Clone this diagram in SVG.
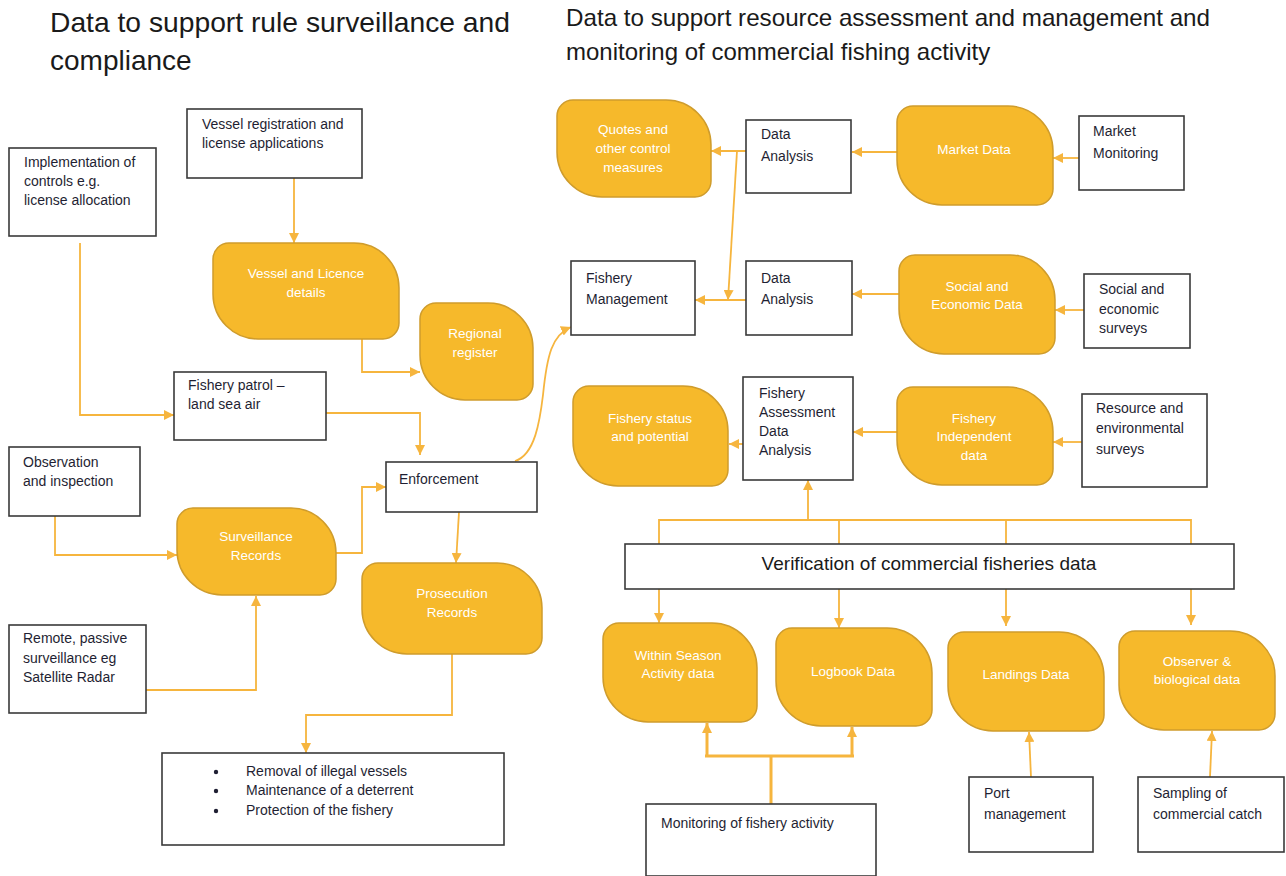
<svg xmlns="http://www.w3.org/2000/svg" width="1286" height="876" viewBox="0 0 1286 876">
<defs>
<style>
.title{font-family:"Liberation Sans",Arial,sans-serif;fill:#1a1a1a}
.box{fill:#fff;stroke:#3a3a3a;stroke-width:1.6}
.t{font-family:"Liberation Sans",Arial,sans-serif;font-size:14px;fill:#1f1f33}
.o{fill:#F6B92B;stroke:#CF9C2C;stroke-width:1.5}
.w{font-family:"Liberation Sans",Arial,sans-serif;font-size:13.5px;fill:#fff;text-anchor:middle}
.c{fill:none;stroke:#F6B53E;stroke-width:1.8}
.c3{fill:none;stroke:#F6B53E;stroke-width:3}
</style>
<marker id="ah" markerUnits="userSpaceOnUse" markerWidth="10" markerHeight="10" refX="10" refY="5" orient="auto">
<path d="M0,0 L10,5 L0,10 z" fill="#F6B53E"/>
</marker>
</defs>
<rect width="1286" height="876" fill="#fff"/>

<g id="titles">
<text class="title" x="50" y="32" font-size="28" textLength="460" lengthAdjust="spacingAndGlyphs">Data to support rule surveillance and</text>
<text class="title" x="50" y="70" font-size="28">compliance</text>
<text class="title" x="566" y="26" font-size="24" textLength="644" lengthAdjust="spacingAndGlyphs">Data to support resource assessment and management and</text>
<text class="title" x="566" y="60" font-size="24">monitoring of commercial fishing activity</text>
</g>

<g id="connectors">
<path class="c" d="M294,178 V243" marker-end="url(#ah)"/>
<path class="c" d="M80,243 V415 H174" marker-end="url(#ah)"/>
<path class="c" d="M362,339 V372 H420" marker-end="url(#ah)"/>
<path class="c" d="M326,413 H420 V455" marker-end="url(#ah)"/>
<path class="c" d="M515,461 C535,455 540,420 543,395 C547,355 552,335 571,327" marker-end="url(#ah)"/>
<path class="c" d="M55,516 V555 H177" marker-end="url(#ah)"/>
<path class="c" d="M146,690 H256 V596" marker-end="url(#ah)"/>
<path class="c" d="M336,553 H362 V487 H386" marker-end="url(#ah)"/>
<path class="c" d="M459,512 L456,563" marker-end="url(#ah)"/>
<path class="c" d="M452,654 V715 H306 V753" marker-end="url(#ah)"/>

<path class="c" d="M746,151 H711" marker-end="url(#ah)"/>
<path class="c" d="M737,151 L728,300" marker-end="url(#ah)"/>
<path class="c" d="M746,300 H695" marker-end="url(#ah)"/>
<path class="c" d="M897,152 H852" marker-end="url(#ah)"/>
<path class="c" d="M1079,158 H1053" marker-end="url(#ah)"/>
<path class="c" d="M899,294 H852" marker-end="url(#ah)"/>
<path class="c" d="M1084,310 H1055" marker-end="url(#ah)"/>
<path class="c" d="M743,444 H729" marker-end="url(#ah)"/>
<path class="c" d="M897,432 H853" marker-end="url(#ah)"/>
<path class="c" d="M1082,442 H1053" marker-end="url(#ah)"/>

<path class="c" d="M659,544 V520 H1191 V544"/>
<path class="c" d="M839,544 V520"/>
<path class="c" d="M1006,544 V520"/>
<path class="c" d="M808,520 V480" marker-end="url(#ah)"/>
<path class="c" d="M659,589 V623" marker-end="url(#ah)"/>
<path class="c" d="M839,589 V628" marker-end="url(#ah)"/>
<path class="c" d="M1006,589 V626" marker-end="url(#ah)"/>
<path class="c" d="M1191,589 V625" marker-end="url(#ah)"/>

<path class="c3" d="M771,804 V756 M705,756 H854"/>
<path class="c3" d="M707,756 V723" marker-end="url(#ah)"/>
<path class="c3" d="M852,756 V727" marker-end="url(#ah)"/>
<path class="c" d="M1031,777 L1029,732" marker-end="url(#ah)"/>
<path class="c" d="M1210,777 L1212,731" marker-end="url(#ah)"/>
</g>

<g id="implementation">
<rect class="box" x="9" y="148" width="147" height="88"/>
<text class="t" x="24" y="167">Implementation of</text>
<text class="t" x="24" y="186">controls e.g.</text>
<text class="t" x="24" y="205">license allocation</text>
</g>
<g id="vessel-registration">
<rect class="box" x="187" y="109" width="175" height="69"/>
<text class="t" x="202" y="129">Vessel registration and</text>
<text class="t" x="202" y="148">license applications</text>
</g>
<g id="vessel-licence">
<path class="o" transform="translate(213,243)" d="M16,0 H141 A45 45 0 0 1 186,45 V80 A16 16 0 0 1 170,96 H45 A45 45 0 0 1 0,51 V16 A16 16 0 0 1 16,0Z"/>
<text class="w" x="306" y="278">Vessel and Licence</text>
<text class="w" x="306" y="297">details</text>
</g>
<g id="regional-register">
<path class="o" transform="translate(420,303)" d="M16,0 H68 A45 45 0 0 1 113,45 V81 A16 16 0 0 1 97,97 H45 A45 45 0 0 1 0,52 V16 A16 16 0 0 1 16,0Z"/>
<text class="w" x="475" y="338">Regional</text>
<text class="w" x="475" y="357">register</text>
</g>
<g id="fishery-patrol">
<rect class="box" x="174" y="372" width="152" height="68"/>
<text class="t" x="188" y="390">Fishery patrol –</text>
<text class="t" x="188" y="409">land sea air</text>
</g>
<g id="observation">
<rect class="box" x="9" y="447" width="131" height="69"/>
<text class="t" x="23" y="467">Observation</text>
<text class="t" x="23" y="486">and inspection</text>
</g>
<g id="surveillance-records">
<path class="o" transform="translate(177,508)" d="M16,0 H114 A45 45 0 0 1 159,45 V71 A16 16 0 0 1 143,87 H45 A45 45 0 0 1 0,42 V16 A16 16 0 0 1 16,0Z"/>
<text class="w" x="256" y="541">Surveillance</text>
<text class="w" x="256" y="560">Records</text>
</g>
<g id="remote">
<rect class="box" x="9" y="625" width="137" height="88"/>
<text class="t" x="23" y="643">Remote, passive</text>
<text class="t" x="23" y="663">surveillance eg</text>
<text class="t" x="23" y="682">Satellite Radar</text>
</g>
<g id="enforcement">
<rect class="box" x="386" y="462" width="151" height="50"/>
<text class="t" x="399" y="484">Enforcement</text>
</g>
<g id="prosecution-records">
<path class="o" transform="translate(362,563)" d="M16,0 H135 A45 45 0 0 1 180,45 V75 A16 16 0 0 1 164,91 H45 A45 45 0 0 1 0,46 V16 A16 16 0 0 1 16,0Z"/>
<text class="w" x="452" y="598">Prosecution</text>
<text class="w" x="452" y="617">Records</text>
</g>
<g id="outcomes">
<rect class="box" x="162" y="753" width="342" height="92"/>
<circle cx="216" cy="772" r="2.2" fill="#1f1f33"/>
<circle cx="216" cy="791" r="2.2" fill="#1f1f33"/>
<circle cx="216" cy="811" r="2.2" fill="#1f1f33"/>
<text class="t" x="246" y="776">Removal of illegal vessels</text>
<text class="t" x="246" y="795">Maintenance of a deterrent</text>
<text class="t" x="246" y="815">Protection of the fishery</text>
</g>

<g id="quotes">
<path class="o" transform="translate(557,100)" d="M16,0 H109 A45 45 0 0 1 154,45 V81 A16 16 0 0 1 138,97 H45 A45 45 0 0 1 0,52 V16 A16 16 0 0 1 16,0Z"/>
<text class="w" x="633" y="134">Quotes and</text>
<text class="w" x="633" y="153">other control</text>
<text class="w" x="633" y="172">measures</text>
</g>
<g id="data-analysis-1">
<rect class="box" x="746" y="120" width="105" height="73"/>
<text class="t" x="761" y="139">Data</text>
<text class="t" x="761" y="161">Analysis</text>
</g>
<g id="market-data">
<path class="o" transform="translate(897,106)" d="M16,0 H111 A45 45 0 0 1 156,45 V83 A16 16 0 0 1 140,99 H45 A45 45 0 0 1 0,54 V16 A16 16 0 0 1 16,0Z"/>
<text class="w" x="974" y="154">Market Data</text>
</g>
<g id="market-monitoring">
<rect class="box" x="1079" y="116" width="105" height="74"/>
<text class="t" x="1093" y="136">Market</text>
<text class="t" x="1093" y="158">Monitoring</text>
</g>
<g id="fishery-management">
<rect class="box" x="571" y="261" width="124" height="74"/>
<text class="t" x="586" y="283">Fishery</text>
<text class="t" x="586" y="304">Management</text>
</g>
<g id="data-analysis-2">
<rect class="box" x="746" y="261" width="106" height="74"/>
<text class="t" x="761" y="283">Data</text>
<text class="t" x="761" y="304">Analysis</text>
</g>
<g id="social-economic-data">
<path class="o" transform="translate(899,255)" d="M16,0 H111 A45 45 0 0 1 156,45 V83 A16 16 0 0 1 140,99 H45 A45 45 0 0 1 0,54 V16 A16 16 0 0 1 16,0Z"/>
<text class="w" x="977" y="291">Social and</text>
<text class="w" x="977" y="309">Economic Data</text>
</g>
<g id="social-surveys">
<rect class="box" x="1084" y="274" width="106" height="74"/>
<text class="t" x="1099" y="294">Social and</text>
<text class="t" x="1099" y="314">economic</text>
<text class="t" x="1099" y="333">surveys</text>
</g>
<g id="fishery-status">
<path class="o" transform="translate(573,386)" d="M16,0 H110 A45 45 0 0 1 155,45 V84 A16 16 0 0 1 139,100 H45 A45 45 0 0 1 0,55 V16 A16 16 0 0 1 16,0Z"/>
<text class="w" x="650" y="423">Fishery status</text>
<text class="w" x="650" y="441">and potential</text>
</g>
<g id="fishery-assessment">
<rect class="box" x="743" y="377" width="110" height="103"/>
<text class="t" x="759" y="398">Fishery</text>
<text class="t" x="759" y="417">Assessment</text>
<text class="t" x="759" y="436">Data</text>
<text class="t" x="759" y="455">Analysis</text>
</g>
<g id="fishery-independent">
<path class="o" transform="translate(897,387)" d="M16,0 H111 A45 45 0 0 1 156,45 V82 A16 16 0 0 1 140,98 H45 A45 45 0 0 1 0,53 V16 A16 16 0 0 1 16,0Z"/>
<text class="w" x="974" y="423">Fishery</text>
<text class="w" x="974" y="441">Independent</text>
<text class="w" x="974" y="460">data</text>
</g>
<g id="resource-surveys">
<rect class="box" x="1082" y="394" width="125" height="93"/>
<text class="t" x="1096" y="413">Resource and</text>
<text class="t" x="1096" y="433">environmental</text>
<text class="t" x="1096" y="454">surveys</text>
</g>
<g id="verification">
<rect class="box" x="625" y="544" width="609" height="45"/>
<text class="title" x="929" y="570" font-size="19" text-anchor="middle">Verification of commercial fisheries data</text>
</g>
<g id="within-season">
<path class="o" transform="translate(603,623)" d="M16,0 H109 A45 45 0 0 1 154,45 V83 A16 16 0 0 1 138,99 H45 A45 45 0 0 1 0,54 V16 A16 16 0 0 1 16,0Z"/>
<text class="w" x="678" y="660">Within Season</text>
<text class="w" x="678" y="678">Activity data</text>
</g>
<g id="logbook">
<path class="o" transform="translate(776,628)" d="M16,0 H111 A45 45 0 0 1 156,45 V82 A16 16 0 0 1 140,98 H45 A45 45 0 0 1 0,53 V16 A16 16 0 0 1 16,0Z"/>
<text class="w" x="853" y="676">Logbook Data</text>
</g>
<g id="landings">
<path class="o" transform="translate(948,632)" d="M16,0 H111 A45 45 0 0 1 156,45 V83 A16 16 0 0 1 140,99 H45 A45 45 0 0 1 0,54 V16 A16 16 0 0 1 16,0Z"/>
<text class="w" x="1026" y="679">Landings Data</text>
</g>
<g id="observer">
<path class="o" transform="translate(1119,631)" d="M16,0 H111 A45 45 0 0 1 156,45 V83 A16 16 0 0 1 140,99 H45 A45 45 0 0 1 0,54 V16 A16 16 0 0 1 16,0Z"/>
<text class="w" x="1197" y="666">Observer &amp;</text>
<text class="w" x="1197" y="684">biological data</text>
</g>
<g id="monitoring">
<rect class="box" x="646" y="804" width="230" height="72"/>
<text class="t" x="661" y="828">Monitoring of fishery activity</text>
</g>
<g id="port-management">
<rect class="box" x="969" y="777" width="124" height="75"/>
<text class="t" x="984" y="798">Port</text>
<text class="t" x="984" y="819">management</text>
</g>
<g id="sampling">
<rect class="box" x="1138" y="777" width="146" height="75"/>
<text class="t" x="1153" y="798">Sampling of</text>
<text class="t" x="1153" y="819">commercial catch</text>
</g>
</svg>
